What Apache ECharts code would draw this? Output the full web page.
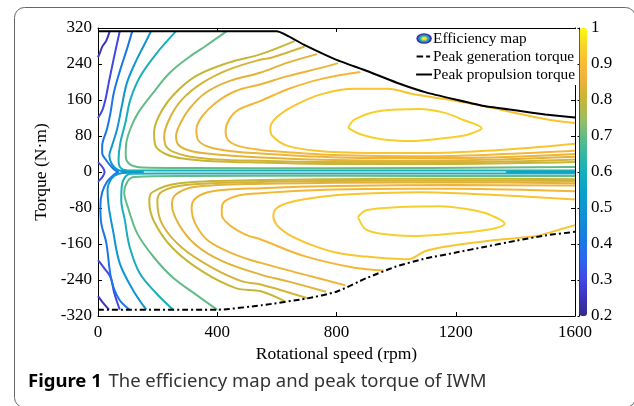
<!DOCTYPE html>
<html>
<head>
<meta charset="utf-8">
<style>
  html, body { margin: 0; padding: 0; background: #fff; }
  #chart { width: 634px; height: 406px; }
</style>
<script src="https://cdn.jsdelivr.net/npm/echarts@6/dist/echarts.min.js"></script>
</head>
<body>
<div id="chart"></div>
<script>
// contour levels (efficiency)
const levelValues = [0.25, 0.3, 0.4, 0.5, 0.6, 0.7, 0.8, 0.82, 0.84, 0.86, 0.88, 0.92, 0.94];

// contour lines, [speed rpm, torque N·m], one array of segments per level
const eff25 = [
  [[39, 313], [28, 292], [14, 278], [6, 264], [0, 255]],
  [[0, -276], [15, -289], [37, -306]]
];
const eff30 = [
  [[73, 313], [62, 280], [50, 243], [36, 198], [25, 161], [15, 138], [0, 120]],
  [[0, 22], [22, 0], [0, -22]],
  [[0, -196], [20, -213], [43, -235], [54, -268], [73, -306]]
];
const eff40 = [
  [[115, 313], [97, 273], [75, 228], [53, 176], [42, 132], [30, 95], [14, 58], [14, 43], [30, 24], [53, 6], [69, 0]],
  [[69, 0], [53, -6], [30, -22], [14, -45], [8, -75], [10, -110], [28, -158], [45, -240], [70, -282], [106, -306]]
];
const eff50 = [
  [[178, 313], [153, 280], [125, 243], [97, 198], [80, 147], [64, 95], [47, 58], [38, 36], [47, 17], [69, 4], [110, 1.5], [153, 0.5]],
  [[153, -0.5], [110, -1.5], [69, -4], [45, -15], [32, -40], [36, -77], [50, -129], [73, -203], [117, -262], [162, -306]],
  [[1600, 1.2], [1480, 0.6], [1370, 0], [1480, -0.6], [1600, -1.2]]
];
const eff60 = [
  [[262, 313], [198, 265], [142, 213], [109, 162], [92, 110], [75, 65], [69, 28], [75, 10], [97, 4], [300, 3.5], [800, 3.5], [1200, 3.5], [1600, 3.5]],
  [[252, -306], [196, -270], [140, -225], [106, -166], [90, -107], [78, -62], [80, -30], [90, -12], [110, -4], [300, -3.5], [1600, -3.5]]
];
const eff70 = [
  [[432, 313], [361, 280], [305, 255], [240, 220], [185, 176], [135, 132], [108, 95], [94, 60], [93, 36], [107, 17], [150, 10], [300, 9], [800, 8.5], [1600, 11]],
  [[400, -306], [330, -273], [252, -235], [188, -190], [132, -137], [102, -82], [88, -45], [100, -20], [122, -11], [300, -9], [800, -8.5], [1600, -9]]
];
const eff80 = [
  [[659, 291], [546, 262], [438, 243], [328, 213], [250, 169], [204, 124], [188, 87], [193, 58], [227, 40], [283, 30], [384, 24], [546, 21], [800, 18], [1200, 18], [1600, 22]],
  [[626, -287], [546, -265], [462, -258], [350, -221], [250, -169], [188, -110], [172, -65], [182, -45], [272, -25], [546, -18], [800, -16], [1200, -15], [1600, -16]]
];
const eff82 = [
  [[693, 279], [581, 254], [546, 250], [440, 228], [350, 198], [283, 162], [244, 124], [222, 80], [228, 58], [255, 44], [310, 34], [400, 28], [546, 25], [800, 22], [1200, 22], [1600, 28]],
  [[700, -280], [546, -250], [484, -243], [384, -213], [283, -169], [216, -117], [199, -65], [216, -43], [294, -29], [546, -22], [800, -20], [1200, -19], [1600, -20]]
];
const eff84 = [
  [[735, 262], [636, 243], [546, 221], [440, 202], [361, 176], [305, 139], [272, 102], [262, 80], [268, 62], [295, 50], [350, 42], [450, 36], [546, 32], [750, 27], [1000, 25], [1300, 27], [1600, 34]],
  [[765, -266], [637, -243], [546, -228], [417, -198], [328, -162], [272, -117], [248, -73], [261, -50], [328, -33], [546, -26], [800, -24], [1200, -23], [1600, -25]]
];
const eff86 = [
  [[805, 242], [750, 232], [636, 213], [546, 195], [462, 180], [395, 154], [350, 124], [330, 95], [335, 72], [370, 56], [450, 46], [546, 41], [700, 35], [900, 31], [1200, 31], [1600, 40]],
  [[830, -252], [693, -228], [546, -202], [462, -184], [372, -154], [328, -117], [314, -80], [328, -58], [384, -43], [546, -36], [800, -31], [1200, -29], [1600, -30]]
];
const eff88 = [
  [[880, 222], [750, 207], [636, 184], [546, 158], [473, 139], [440, 117], [428, 92], [435, 72], [470, 58], [546, 49], [636, 44], [750, 39], [900, 36], [1100, 35], [1300, 38], [1600, 47]],
  [[958, -219], [861, -213], [693, -187], [546, -150], [495, -139], [440, -117], [415, -95], [417, -73], [462, -54], [546, -47], [700, -41], [900, -38], [1200, -37], [1600, -43]]
];
const eff92 = [
  [[1600, 109], [1498, 118], [1387, 133], [1276, 149], [1163, 162], [1052, 174], [972, 185], [861, 185], [750, 173], [660, 148], [600, 122], [578, 98], [585, 80], [636, 58], [750, 46], [861, 43], [1079, 42], [1300, 47], [1450, 54], [1600, 63]],
  [[1600, -61], [1300, -50], [1079, -45], [861, -49], [749, -55], [650, -66], [600, -80], [588, -98], [600, -118], [640, -139], [720, -163], [805, -180], [900, -188], [973, -192], [1040, -194], [1097, -176], [1164, -166], [1332, -151], [1466, -143], [1522, -133], [1600, -118]]
];
const eff94 = [
  [[839, 98], [861, 117], [950, 136], [1079, 140], [1160, 132], [1220, 117], [1287, 97], [1250, 85], [1220, 80], [1130, 73], [1052, 69], [950, 73], [880, 84], [839, 98]],
  [[872, -100], [900, -85], [1012, -78], [1150, -76], [1250, -84], [1310, -94], [1364, -115], [1310, -128], [1200, -136], [1052, -142], [973, -139], [900, -128], [872, -100]]
];
const contours = [eff25, eff30, eff40, eff50, eff60, eff70, eff80, eff82, eff84, eff86, eff88, eff92, eff94];

// peak torque curves
const peakPropulsion = [[0, 313], [600, 313], [690, 283], [800, 249], [900, 225], [1000, 199], [1100, 177], [1200, 161], [1300, 146], [1400, 137], [1500, 128], [1600, 121]];
const peakGeneration = [[0, -306], [400, -306], [550, -296], [700, -281], [800, -266], [900, -236], [1000, -210], [1100, -192], [1200, -179], [1300, -166], [1400, -153], [1500, -141], [1600, -133]];

// colour map 0.2 .. 1 (parula-like)
const colorMap = ['#352a87', '#3b33bd', '#4247e4', '#3062ef', '#1a76e6', '#1487d8', '#0f96d2', '#0ba3c9', '#18aebb',
  '#35b8a0', '#62bc86', '#9dbd62', '#c6b637', '#eab23a', '#f9bb36', '#f6d42a', '#f9fb0e'];

const hexToRgb = (h) => [1, 3, 5].map((i) => parseInt(h.substr(i, 2), 16));
const colorAt = (v) => {
  const t = Math.min(Math.max((v - 0.2) / 0.8, 0), 1) * (colorMap.length - 1);
  const i = Math.min(Math.floor(t), colorMap.length - 2);
  const f = t - i;
  const a = hexToRgb(colorMap[i]);
  const b = hexToRgb(colorMap[i + 1]);
  const c = a.map((x, k) => Math.round(x + (b[k] - x) * f));
  return "rgb(" + c.join(",") + ")";
};

const serif = "Liberation Serif";

// legend icons
const svgIcon = (body) => "image://data:image/svg+xml;utf8," + encodeURIComponent(
  "<svg xmlns='http://www.w3.org/2000/svg' width='32' height='22'>" + body + "</svg>");
const effIcon = svgIcon(
  "<ellipse cx='16' cy='11' rx='15.5' ry='10.5' fill='#3b2fa8'/>" +
  "<ellipse cx='16' cy='11' rx='12' ry='8' fill='#1d86e0'/>" +
  "<ellipse cx='16' cy='11' rx='9' ry='6' fill='#2bb9a6'/>" +
  "<ellipse cx='16' cy='11' rx='6' ry='4' fill='#e6c430'/>" +
  "<ellipse cx='16' cy='11' rx='3.5' ry='2.4' fill='#f9f01a'/>");
const dashIcon = svgIcon(
  "<line x1='1' y1='11' x2='14' y2='11' stroke='#000' stroke-width='4'/>" +
  "<line x1='20' y1='11' x2='28' y2='11' stroke='#000' stroke-width='4'/>");
const solidIcon = svgIcon("<line x1='0' y1='11' x2='32' y2='11' stroke='#000' stroke-width='4'/>");

// build contour series
const series = [];
contours.forEach((segs, k) => {
  const col = colorAt(levelValues[k]);
  segs.forEach((seg) => {
    series.push({
      name: "Efficiency map",
      type: "line",
      data: seg,
      smooth: 0.35,
      symbol: "none",
      silent: true,
      color: col,
      lineStyle: { color: col, width: 2 },
      z: 2,
    });
  });
});
series.push({
  name: "Peak generation torque",
  type: "line",
  data: peakGeneration,
  smooth: 0.2,
  symbol: "none",
  color: "#000",
  lineStyle: { color: "#000", width: 2, type: [6, 3, 2, 3] },
  z: 3,
});
series.push({
  name: "Peak propulsion torque",
  type: "line",
  data: peakPropulsion,
  smooth: 0.15,
  symbol: "none",
  color: "#000",
  lineStyle: { color: "#000", width: 2 },
  z: 3,
});
// dummy series for the colour bar
series.push({ type: "scatter", xAxisIndex: 2, yAxisIndex: 2, data: [], silent: true });
const dummyIndex = series.length - 1;

const axisCommon = {
  axisLine: { show: true, onZero: false, lineStyle: { color: "#000", width: 1 } },
  axisTick: { show: true, inside: true, length: 4, lineStyle: { color: "#000" } },
  splitLine: { show: false },
};

const chart = echarts.init(document.getElementById("chart"));
chart.setOption({
  animation: false,
  grid: [
    { left: 98, top: 28, width: 477, height: 288 },
    { left: 579.5, top: 28, width: 7.5, height: 288 },
  ],
  xAxis: [
    Object.assign({
      gridIndex: 0, type: "value", min: 0, max: 1600, interval: 400, position: "bottom",
      axisLabel: { color: "#000", fontFamily: serif, fontSize: 17, margin: 8, formatter: (v) => String(v) },
      name: "Rotational speed (rpm)", nameLocation: "middle", nameGap: 27,
      nameTextStyle: { color: "#000", fontFamily: serif, fontSize: 17.5 },
    }, axisCommon),
    Object.assign({
      gridIndex: 0, type: "value", min: 0, max: 1600, interval: 400, position: "top",
      axisLabel: { show: false },
    }, axisCommon),
    { gridIndex: 1, type: "value", min: 0, max: 1, show: false },
  ],
  yAxis: [
    Object.assign({
      gridIndex: 0, type: "value", min: -320, max: 320, interval: 80, position: "left",
      axisLabel: { color: "#000", fontFamily: serif, fontSize: 17, margin: 6, formatter: (v) => String(v) },
      name: "Torque (N·m)", nameLocation: "middle", nameGap: 43,
      nameTextStyle: { color: "#000", fontFamily: serif, fontSize: 17.5 },
    }, axisCommon),
    Object.assign({
      gridIndex: 0, type: "value", min: -320, max: 320, interval: 80, position: "right",
      axisLabel: { show: false },
    }, axisCommon),
    {
      gridIndex: 1, type: "value", min: 0.2, max: 1, interval: 0.1, position: "right",
      axisLine: { show: true, lineStyle: { color: "#000", width: 1 } },
      axisTick: { show: true, inside: true, length: 2, lineStyle: { color: "#000" } },
      splitLine: { show: false },
      axisLabel: {
        color: "#000", fontFamily: serif, fontSize: 17, margin: 4,
        formatter: (v) => (Math.abs(v - 1) < 1e-6 ? "1" : v.toFixed(1)),
      },
    },
  ],
  visualMap: {
    type: "continuous",
    min: 0.2,
    max: 1,
    seriesIndex: [dummyIndex],
    left: 579.5,
    top: 28,
    itemWidth: 7.5,
    itemHeight: 288,
    padding: 0,
    calculable: false,
    hoverLink: false,
    text: null,
    inRange: { color: colorMap },
  },
  legend: {
    orient: "vertical",
    right: 57,
    top: 29,
    backgroundColor: "#fff",
    padding: [2, 2, 3, 4],
    itemGap: 3,
    itemWidth: 16,
    itemHeight: 11,
    selectedMode: false,
    textStyle: { color: "#000", fontFamily: serif, fontSize: 15.3, padding: [0, 0, 0, -4] },
    data: [
      { name: "Efficiency map", icon: effIcon },
      { name: "Peak generation torque", icon: dashIcon },
      { name: "Peak propulsion torque", icon: solidIcon },
    ],
    z: 10,
  },
  graphic: [
    {
      type: "rect",
      left: 12,
      top: 5,
      shape: { width: 621, height: 400, r: 10 },
      style: { fill: "none", stroke: "#666", lineWidth: 1 },
      silent: true,
    },
    {
      type: "text",
      left: 28,
      top: 372,
      style: {
        text: "{b|Figure 1}  {n|The efficiency map and peak torque of IWM}",
        rich: {
          b: { fontFamily: "Noto Sans", fontWeight: "bold", fontSize: 18.5, fill: "#000" },
          n: { fontFamily: "Noto Sans", fontSize: 18.5, fill: "#333" },
        },
      },
    },
  ],
  series: series,
});
</script>
</body>
</html>
